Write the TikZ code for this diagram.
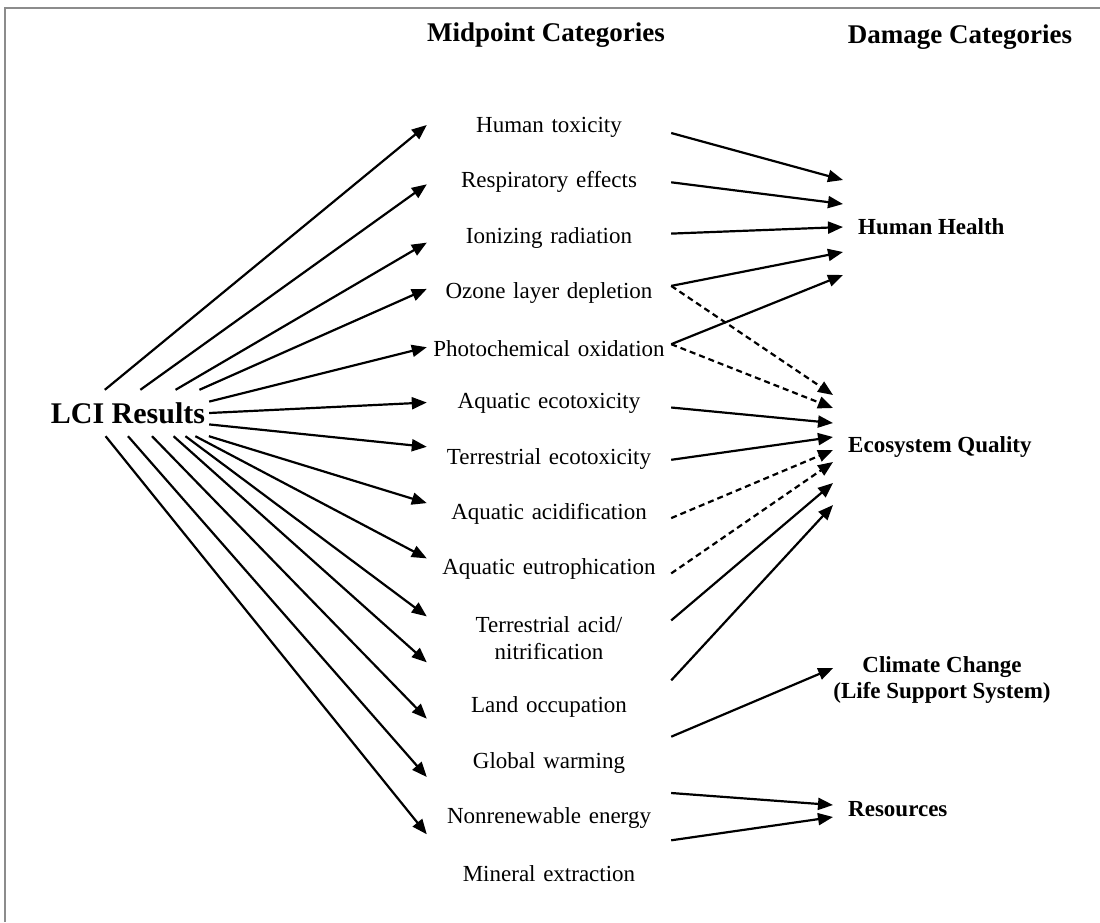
\documentclass[tikz,border=0pt]{standalone}
\usepackage{fontspec}
\setmainfont{Liberation Serif}
\usetikzlibrary{arrows.meta,positioning}
\newcommand{\midsize}{\fontsize{23}{27}\selectfont}
\newcommand{\dmgsize}{\fontsize{23}{26}\selectfont}
\newcommand{\headsize}{\fontsize{27}{30}\selectfont}
\newcommand{\lcisize}{\fontsize{30}{34}\selectfont}

\begin{document}
\begin{tikzpicture}[
  x=1pt, y=-1pt,
  node distance=55.3pt, on grid,
  mid/.style={align=center, text width=236pt, inner xsep=4pt, font=\midsize},
  dmg/.style={anchor=west, inner xsep=15pt, font=\dmgsize\bfseries},
  head/.style={font=\headsize\bfseries},
  arrow/.style={-{Triangle[length=15pt,width=12pt]}, line width=2.2pt},
  dasharrow/.style={arrow, dash pattern=on 6pt off 4pt},
  frame/.style={draw=black!45, line width=2.5pt}
]
\useasboundingbox (0,0) rectangle (1100,922);
\draw[frame] (5,922) -- (5,8) -- (1100,8);

\node[head] (midhead) at (546,35) {Midpoint Categories};
\node[head] (dmghead) at (960,37) {Damage Categories};

\node[font=\lcisize\bfseries, minimum width=162pt, minimum height=46pt, inner sep=0pt] (lci) at (128,413) {LCI Results};

% midpoint column
\node[mid] (humantox) at (549,127) {Human toxicity};
\node[mid, below=of humantox] (resp) {Respiratory effects};
\node[mid, below=of resp] (ionizing) {Ionizing radiation};
\node[mid, below=of ionizing] (ozone) {Ozone layer depletion};
\node[mid, below=of ozone] (photochem) {Photochemical oxidation};
\node[mid, below=of photochem] (aqeco) {Aquatic ecotoxicity};
\node[mid, below=of aqeco] (terreco) {Terrestrial ecotoxicity};
\node[mid, below=of terreco] (aqacid) {Aquatic acidification};
\node[mid, below=of aqacid] (aqeutro) {Aquatic eutrophication};
\node[mid, below=69pt of aqeutro] (terracid) {Terrestrial acid/\\nitrification};
\node[mid, below=69pt of terracid] (land) {Land occupation};
\node[mid, below=of land] (warming) {Global warming};
\node[mid, below=of warming] (energy) {Nonrenewable energy};
\node[mid, below=of energy] (mineral) {Mineral extraction};

% damage column
\node[dmg] (health) at (843,227) {Human Health};
\node[dmg] (ecosystem) at (833,447) {Ecosystem Quality};
\node[font=\dmgsize\bfseries, align=center, inner xsep=0pt] (climate) at (942,680) {Climate Change\\(Life Support System)};
\node[dmg] (resources) at (833,809) {Resources};

% LCI to midpoints
\draw[arrow] (lci.135) -- ([yshift=2pt]humantox.west);
\draw[arrow] (lci.62.4) -- ([yshift=-2pt]resp.west);
\draw[arrow] (lci.26.1) -- ([yshift=-5pt]ionizing.west);
\draw[arrow] (lci.18.2) -- ([yshift=4pt]ozone.west);
\draw[arrow] (lci.8.4) -- ([yshift=1pt]photochem.west);
\draw[arrow] (lci.0) -- ([yshift=1pt]aqeco.west);
\draw[arrow] (lci.352.3) -- ([yshift=12pt]terreco.west);
\draw[arrow] (lci.344.1) -- ([yshift=11pt]aqacid.west);
\draw[arrow] (lci.341.8) -- ([yshift=11pt]aqeutro.west);
\draw[arrow] (lci.338.7) -- ([yshift=22pt]terracid.west);
\draw[arrow] (lci.333.9) -- ([yshift=45pt]land.west);
\draw[arrow] (lci.316.2) -- ([yshift=44pt]warming.west);
\draw[arrow] (lci.270) -- ([yshift=41pt]energy.west);
\draw[arrow] (lci.226.3) -- ([yshift=39pt]mineral.west);

% midpoints to damage
\draw[arrow] ([yshift=-6pt]humantox.east) -- ([yshift=47pt]health.west);
\draw[arrow] (resp.east) -- ([yshift=23pt]health.west);
\draw[arrow] ([yshift=4pt]ionizing.east) -- (health.west);
\draw[arrow] ([yshift=7pt]ozone.east) -- ([yshift=-25pt]health.west);
\draw[arrow] ([yshift=4pt]photochem.east) -- ([yshift=-48pt]health.west);
\draw[dasharrow] ([yshift=7pt]ozone.east) -- ([yshift=52pt]ecosystem.west);
\draw[dasharrow] ([yshift=4pt]photochem.east) -- ([yshift=39pt]ecosystem.west);
\draw[arrow] ([yshift=-4pt]aqeco.east) -- ([yshift=24pt]ecosystem.west);
\draw[arrow] ([yshift=-1pt]terreco.east) -- ([yshift=10pt]ecosystem.west);
\draw[dasharrow] ([yshift=-4pt]aqacid.east) -- ([yshift=-3pt]ecosystem.west);
\draw[dasharrow] ([yshift=-4pt]aqeutro.east) -- ([yshift=-15pt]ecosystem.west);
\draw[arrow] ([yshift=18pt]terracid.east) -- ([yshift=-36pt]ecosystem.west);
\draw[arrow] ([yshift=27pt]land.east) -- ([yshift=-58pt]ecosystem.west);
\draw[arrow] ([yshift=26pt]warming.east) -- ([yshift=12pt]climate.west);
\draw[arrow] ([yshift=25pt]energy.east) -- ([yshift=4pt]resources.west);
\draw[arrow] ([yshift=33pt]mineral.east) -- ([yshift=-8pt]resources.west);
\end{tikzpicture}
\end{document}
